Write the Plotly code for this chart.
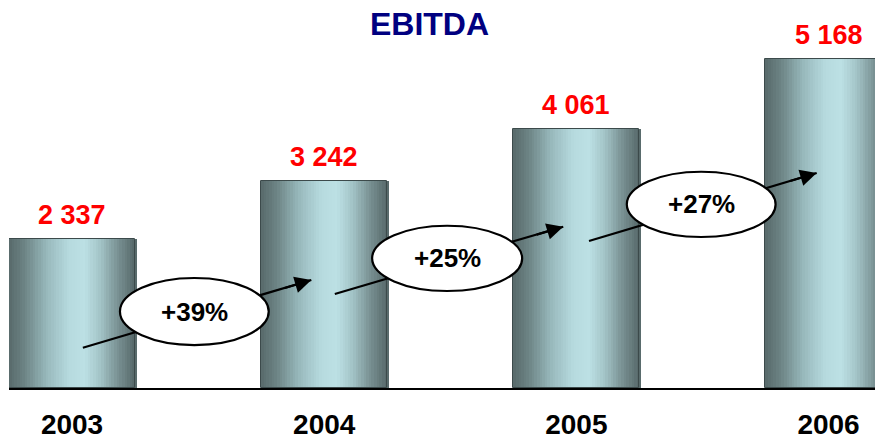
import plotly.graph_objects as go

# ---- data ----
years = ["2003", "2004", "2005", "2006"]
ebitda = [2337, 3242, 4061, 5168]
growth_labels = ["+39%", "+25%", "+27%"]

# ---- decoration layout (positions of growth callouts, in axis units) ----
ell_x0 = [0.19, 1.19, 2.20]
ell_x1 = [0.78, 1.785, 2.79]
ell_y0 = [674, 1521, 2368]
ell_y1 = [1725, 2545, 3392]
arr_x0 = [0.043, 1.042, 2.050]
arr_x1 = [0.949, 1.948, 2.953]
arr_y0 = [632, 1474, 2305]
arr_y1 = [1694, 2530, 3372]

FONT = "Liberation Sans, Arial, sans-serif"
BAR_W = 0.5
W, H = 875, 430  # page body has an 8px margin

# gradient stops across the bar width (position, rgb)
stops = [
    (0.00, (88, 106, 107)),
    (0.12, (108, 131, 132)),
    (0.30, (152, 185, 188)),
    (0.48, (183, 219, 223)),
    (0.60, (188, 224, 228)),
    (0.72, (164, 197, 200)),
    (0.86, (122, 146, 148)),
    (1.00, (86, 104, 105)),
]


def grad(t):
    for (p0, c0), (p1, c1) in zip(stops[:-1], stops[1:]):
        if p0 <= t <= p1:
            f = (t - p0) / (p1 - p0)
            return "rgb(%d,%d,%d)" % tuple(round(a + (b - a) * f) for a, b in zip(c0, c1))
    return "rgb(%d,%d,%d)" % stops[-1][1]


fig = go.Figure()
N = 48
sw = BAR_W / N
xs = list(range(len(years)))
for k in range(N):
    fig.add_trace(go.Bar(
        x=xs, y=ebitda, width=sw * 1.6, offset=-BAR_W / 2 + k * sw,
        marker=dict(color=grad((k + 0.5) / N), line=dict(width=0)),
        hoverinfo="skip", showlegend=False,
    ))
# outline
fig.add_trace(go.Bar(
    x=xs, y=ebitda, width=BAR_W,
    marker=dict(color="rgba(0,0,0,0)", line=dict(color="#3c4a4b", width=1)),
    showlegend=False, hoverinfo="skip",
))

# arrows (lines, under the ellipses)
for i in range(len(growth_labels)):
    fig.add_trace(go.Scatter(
        x=[arr_x0[i], arr_x1[i]], y=[arr_y0[i], arr_y1[i]], mode="lines",
        line=dict(color="black", width=2.2), showlegend=False, hoverinfo="skip",
    ))

shapes = []
annotations = []
for i, g in enumerate(growth_labels):
    shapes.append(dict(type="circle", xref="x", yref="y", layer="above",
                       x0=ell_x0[i], x1=ell_x1[i], y0=ell_y0[i], y1=ell_y1[i],
                       fillcolor="white", line=dict(color="black", width=2.2)))
    annotations.append(dict(x=(ell_x0[i] + ell_x1[i]) / 2, y=(ell_y0[i] + ell_y1[i]) / 2,
                            text="<b>%s</b>" % g, showarrow=False,
                            font=dict(family=FONT, size=26, color="black")))
    # arrow head
    annotations.append(dict(x=arr_x1[i], y=arr_y1[i], ax=-28, ay=8.4, text="",
                            showarrow=True, arrowhead=2, arrowsize=1.5, arrowwidth=2.2,
                            arrowcolor="black"))

for i, v in enumerate(ebitda):
    annotations.append(dict(x=i, y=v, text="<b>%s</b>" % f"{v:,}".replace(",", " "),
                            showarrow=False, yanchor="middle", yshift=24,
                            font=dict(family=FONT, size=27, color="#ff0000")))

fig.update_layout(
    width=W, height=H,
    margin=dict(l=1, r=0, t=0, b=50),
    paper_bgcolor="white", plot_bgcolor="white",
    barmode="overlay", bargap=0,
    title=dict(text="<b>EBITDA</b>", x=421.5 / W, xref="container", xanchor="center",
               y=1 - 16 / H, yref="container", yanchor="middle",
               font=dict(family=FONT, size=32, color="#000080")),
    xaxis=dict(range=[-0.25, 3.216], tickvals=xs, ticktext=["<b>%s</b>" % y for y in years],
               tickfont=dict(family=FONT, size=28, color="black"), showgrid=False,
               zeroline=False, showline=True, linecolor="black", linewidth=2,
               ticks="", ticklabelstandoff=10, automargin=False, fixedrange=True),
    yaxis=dict(range=[0, 5960], visible=False, showgrid=False, zeroline=False,
               automargin=False, fixedrange=True),
    shapes=shapes, annotations=annotations,
)
fig.write_html("out.html")
